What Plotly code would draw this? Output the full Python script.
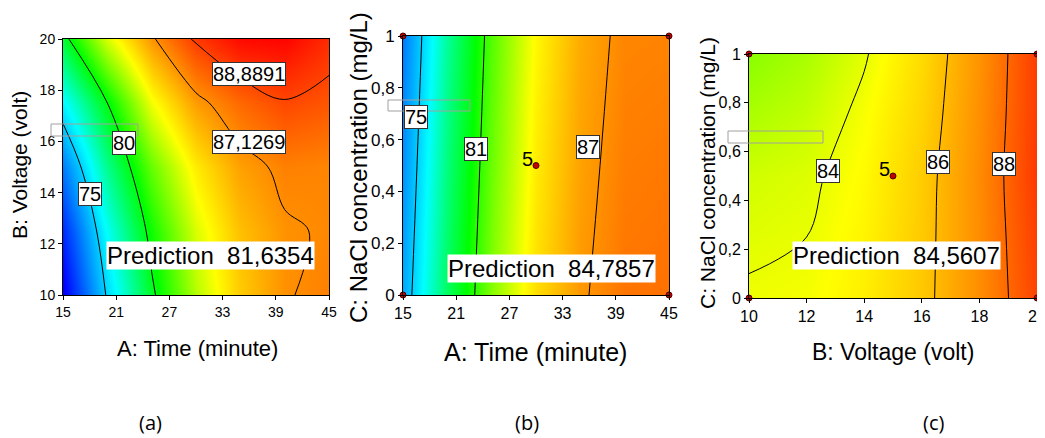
import plotly.graph_objects as go

# ---------------- data ----------------
# Panel (a): Time (min) x Voltage (V)
time_a = [15, 20, 25, 30, 35, 40, 45]
volt_a = [10, 12.5, 15, 17.5, 20]
yield_a = [
    [69.7, 75.2, 79.7, 83.15, 85.6, 87.03, 87.45],
    [70.97, 76.28, 80.53, 83.74, 85.88, 86.98, 87.25],
    [72.97, 77.98, 81.92, 84.81, 86.64, 87.42, 87.3],
    [75.96, 80.0, 84.18, 86.75, 88.0, 88.8, 88.45],
    [79.43, 83.71, 86.94, 89.13, 90.29, 90.42, 89.47],
]
levels_a = [75, 80, 87.1269, 88.8891]
labels_a = ["75", "80", "87,1269", "88,8891"]
label_x_a = [17.99, 21.88, 35.98, 35.98]
label_y_a = [13.96, 15.92, 15.98, 18.65]
pred_a = "Prediction\u00a0\u00a081,6354"

# Panel (b): Time (min) x NaCl (mg/L)
time_b = [15, 20, 25, 30, 35, 40, 45]
nacl_b = [0, 0.5, 1]
yield_b = [
    [74.07, 78.72, 82.41, 85.14, 86.83, 87.70, 87.8],
    [73.5, 78.25, 82.0, 84.8, 86.6, 87.5, 87.6],
    [72.96, 77.77, 81.62, 84.49, 86.38, 87.30, 87.35],
]
levels_b = [75, 81, 87]
labels_b = ["75", "81", "87"]
label_x_b = [16.47, 23.18, 35.92]
label_y_b = [0.687, 0.562, 0.571]
pts_x_b = [15, 15, 45, 45, 30]
pts_y_b = [0, 1, 0, 1, 0.5]
pred_b = "Prediction\u00a0\u00a084,7857"

# Panel (c): Voltage (V) x NaCl (mg/L)
volt_c = [10, 12, 14, 16, 18, 20]
nacl_c = [0, 0.25, 0.5, 0.75, 1]
yield_c = [
    [84.1, 84.2, 84.74, 85.69, 87.08, 88.9],
    [83.85, 84.0, 84.6, 85.64, 87.11, 89.03],
    [83.59, 83.8, 84.46, 85.58, 87.14, 89.17],
    [83.0, 83.39, 84.25, 85.4, 87.05, 89.1],
    [82.44, 82.97, 83.9, 85.22, 86.95, 89.07],
]
levels_c = [84, 86, 88]
labels_c = ["84", "86", "88"]
label_x_c = [12.76, 16.55, 18.87]
label_y_c = [0.52, 0.557, 0.549]
pts_x_c = [10, 10, 20, 20, 15]
pts_y_c = [0, 1, 0, 1, 0.5]
pred_c = "Prediction\u00a0\u00a084,5607"

ticks_a_x = [15, 21, 27, 33, 39, 45]
ticks_a_y = [10, 12, 14, 16, 18, 20]
ticks_nacl = [0, 0.2, 0.4, 0.6, 0.8, 1]
ticks_c_x = [10, 12, 14, 16, 18, 20]

# ---------------- styling ----------------
W, H = 1045, 438
OFF = 8  # page body margin offset
ZMIN, ZMAX = 70, 90.5
CSCALE = [[0, "#0000ff"], [0.3, "#00ffff"], [0.5, "#00ff00"],
          [0.7, "#ffff00"], [0.85, "#ff8000"], [1, "#ff0000"]]
FONT = "Liberation Sans, Arial, sans-serif"

def px(x):
    return (x - OFF) / W

def py(y):
    return 1 - (y - OFF) / H

fig = go.Figure()

panels = [
    dict(xa="x", ya="y", x=time_a, y=volt_a, z=yield_a, levels=levels_a),
    dict(xa="x2", ya="y2", x=time_b, y=nacl_b, z=yield_b, levels=levels_b),
    dict(xa="x3", ya="y3", x=volt_c, y=nacl_c, z=yield_c, levels=levels_c),
]
for p in panels:
    fig.add_trace(go.Heatmap(x=p["x"], y=p["y"], z=p["z"], zsmooth="best",
                             colorscale=CSCALE, zmin=ZMIN, zmax=ZMAX,
                             showscale=False, xaxis=p["xa"], yaxis=p["ya"],
                             hoverinfo="skip"))
    for lv in p["levels"]:
        fig.add_trace(go.Contour(x=p["x"], y=p["y"], z=p["z"], autocontour=False,
                                 contours=dict(start=lv, end=lv, size=1, coloring="none"),
                                 line=dict(color="black", width=1), showscale=False,
                                 xaxis=p["xa"], yaxis=p["ya"], hoverinfo="skip"))

# design points
for xs, ys, xa, ya in [(pts_x_b, pts_y_b, "x2", "y2"), (pts_x_c, pts_y_c, "x3", "y3")]:
    fig.add_trace(go.Scatter(x=xs, y=ys, mode="markers", cliponaxis=False,
                             marker=dict(size=6, color="#c00000",
                                         line=dict(color="#500000", width=1)),
                             xaxis=xa, yaxis=ya, hoverinfo="skip"))

annotations = []
# contour labels
for labs, lx, ly, xr, yr in [(labels_a, label_x_a, label_y_a, "x", "y"),
                             (labels_b, label_x_b, label_y_b, "x2", "y2"),
                             (labels_c, label_x_c, label_y_c, "x3", "y3")]:
    for t, xx, yy in zip(labs, lx, ly):
        annotations.append(dict(x=xx, y=yy, xref=xr, yref=yr, text=t, showarrow=False,
                                xanchor="center", yanchor="middle",
                                font=dict(family=FONT, size=20, color="black"),
                                bgcolor="white", bordercolor="#333333", borderwidth=1,
                                borderpad=0))
# "5" center-point labels
for xx, yy, xr, yr in [(30, 0.5, "x2", "y2"), (15, 0.5, "x3", "y3")]:
    annotations.append(dict(x=xx, y=yy, xref=xr, yref=yr, text="5", showarrow=False,
                            xanchor="right", yanchor="bottom", xshift=-1, yshift=-6,
                            font=dict(family=FONT, size=20, color="black")))
# prediction boxes
for t, cx, cy in [(pred_a, 210.5, 255), (pred_b, 551, 268), (pred_c, 896, 255)]:
    annotations.append(dict(x=px(cx), y=py(cy), xref="paper", yref="paper", text=t,
                            xanchor="center", yanchor="middle",
                            showarrow=False, font=dict(family=FONT, size=24, color="black"),
                            bgcolor="white", borderpad=0))
# axis titles
for t, cx, cy, sz, ang in [("A: Time (minute)", 197.5, 348, 22, 0),
                           ("B: Voltage (volt)", 20, 165, 21, -90),
                           ("A: Time (minute)", 535, 352, 25, 0),
                           ("C: NaCl concentration (mg/L)", 358, 168, 24, -90),
                           ("B: Voltage (volt)", 892.5, 352, 23, 0),
                           ("C: NaCl concentration (mg/L)", 708, 173, 21, -90)]:
    annotations.append(dict(x=px(cx), y=py(cy), xref="paper", yref="paper", text=t,
                            xanchor="center", yanchor="middle",
                            showarrow=False, textangle=ang,
                            font=dict(family=FONT, size=sz, color="black")))
# panel captions
for t, cx in [("(a)", 150), ("(b)", 527), ("(c)", 933)]:
    annotations.append(dict(x=px(cx), y=py(422), xref="paper", yref="paper", text=t,
                            xanchor="center", yanchor="middle",
                            showarrow=False, font=dict(family="Open Sans", size=20, color="black")))

# flag rectangles
shapes = []
for x0, x1, y0, y1 in [(51, 138, 124, 136), (388, 470, 100, 111), (728, 823, 131, 143)]:
    shapes.append(dict(type="rect", xref="paper", yref="paper",
                       x0=px(x0), x1=px(x1), y0=py(y1), y1=py(y0),
                       line=dict(color="#a0a0a0", width=1), fillcolor="rgba(0,0,0,0)"))

def ax(domain, rng, tickvals, fs, anchor):
    return dict(domain=domain, range=rng, tickmode="array", tickvals=tickvals,
                showline=True, linecolor="black", linewidth=1, mirror=True,
                ticks="outside", ticklen=4, tickcolor="black", showgrid=False,
                zeroline=False, anchor=anchor, automargin=False,
                tickfont=dict(family=FONT, size=fs, color="black"))

fig.update_layout(
    template="none",
    width=W, height=H, margin=dict(l=0, r=0, t=0, b=0, autoexpand=False),
    paper_bgcolor="white", plot_bgcolor="white", showlegend=False,
    separators=",.",
    xaxis=ax([px(63), px(329)], [15, 45], ticks_a_x, 14, "y"),
    yaxis=ax([py(295), py(39)], [10, 20], ticks_a_y, 14, "x"),
    xaxis2=ax([px(403), px(669)], [15, 45], ticks_a_x, 16, "y2"),
    yaxis2=ax([py(295), py(36)], [0, 1], ticks_nacl, 17, "x2"),
    xaxis3=ax([px(749), px(1037)], [10, 20], ticks_c_x, 16, "y3"),
    yaxis3=ax([py(298), py(54)], [0, 1], ticks_nacl, 16, "x3"),
    annotations=annotations, shapes=shapes,
)

fig.write_html("out.html")
